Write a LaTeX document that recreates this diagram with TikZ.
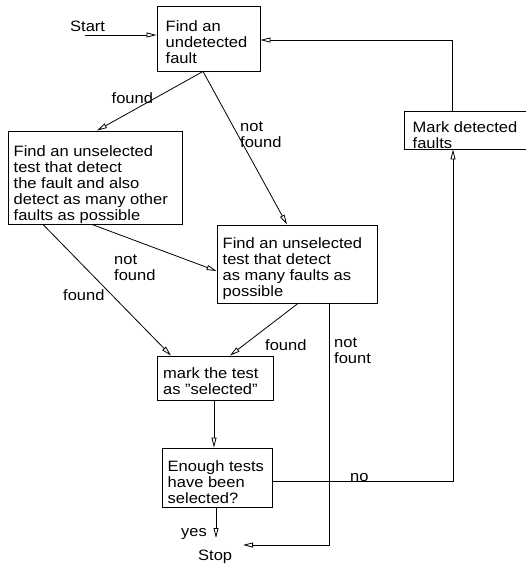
\documentclass[tikz,border=0pt]{standalone}
\usepackage{fontspec}
\setmainfont[FakeStretch=1.1]{Liberation Sans}
\usetikzlibrary{arrows.meta,calc}
\begin{document}
\begin{tikzpicture}[x=1pt,y=-1pt,
  box/.style={draw,line width=0.9pt,rectangle,inner sep=0pt},
  txt/.style={anchor=base west,inner sep=0pt,align=left,font=\fontsize{15}{16}\selectfont},
  lbl/.style={anchor=base west,inner sep=0pt,align=left,font=\fontsize{15}{16}\selectfont},
  conn/.style={line width=0.8pt,-{Triangle[open,length=10pt,width=5pt]}},
  plain/.style={line width=0.8pt}]
\useasboundingbox (0,0) rectangle (526,565);
% boxes
\node[box,minimum width=103pt,minimum height=65pt] (b1) at (208.5,38.5) {};
\node[box,minimum width=174pt,minimum height=93pt] (b2) at (95,177.5) {};
\node[box,minimum width=160pt,minimum height=78pt] (b3) at (297,264) {};
\node[box,minimum width=122pt,minimum height=38pt] (mk) at (465.5,130) {};
\node[box,minimum width=116pt,minimum height=44pt] (ms) at (215,378) {};
\node[box,minimum width=110pt,minimum height=59pt] (en) at (217,477.5) {};
% box texts (anchor = baseline of last line)
\node[txt] (t1) at (165.5,63.5) {Find an\\undetected\\fault};
\node[txt] (t2) at (13.5,220) {Find an unselected\\test that detect\\the fault and also\\detect as many other\\faults as possible};
\node[txt] (t3) at (222.5,296) {Find an unselected\\test that detect\\as many faults as\\possible};
\node[txt] (t4) at (412.5,148) {Mark detected\\faults};
\node[txt] (t5) at (163,394) {mark the test\\as {\char34}selected{\char34}};
\node[txt] (t6) at (167.5,503) {Enough tests\\have been\\selected?};
% labels
\node[lbl] (lstart) at (70,31.5) {Start};
\node[lbl] (lf1) at (111.5,103) {found};
\node[lbl] (lnf1) at (240,147) {not\\found};
\node[lbl] (lnf2) at (114,280.5) {not\\found};
\node[lbl] (lf2) at (63,300) {found};
\node[lbl] (lf3) at (265,350) {found};
\node[lbl] (lnf3) at (334,363) {not\\fount};
\node[lbl] (lno) at (350,481.5) {no};
\node[lbl] (lyes) at (181,536) {yes};
\node[lbl] (stop) at (198,560) {Stop};
% coordinates
\coordinate (st) at (85,35);
\coordinate (yesend) at (216,538);
\coordinate (stopend) at (243,545);
% connectors
\draw[conn] (st) -- (st -| b1.west);
\draw[conn] ([xshift=-13.5pt]mk.north) |- ([yshift=-1.5pt]b1.east);
\draw[conn] ([xshift=-5.5pt]b1.south) -- ([xshift=2pt]b2.north);
\draw[conn] ([xshift=-5.5pt]b1.south) -- ([xshift=-10pt]b3.north);
\draw[conn] ([xshift=-3pt]b2.south) -- ([yshift=-7pt]b3.west);
\draw[conn] ([xshift=-52pt]b2.south) -- ([xshift=-44pt]ms.north);
\draw[conn] ([xshift=1pt]b3.south) -- ([xshift=15pt]ms.north);
\draw[conn] ([xshift=32pt]b3.south) |- (stopend);
\draw[conn] ([xshift=-1pt]ms.south) -- ([xshift=-3pt]en.north);
\draw[conn] ([yshift=-3.5pt]en.east) -| ([xshift=-12.5pt]mk.south);
\draw[conn] (en.south -| yesend) -- (yesend);
\end{tikzpicture}
\end{document}
